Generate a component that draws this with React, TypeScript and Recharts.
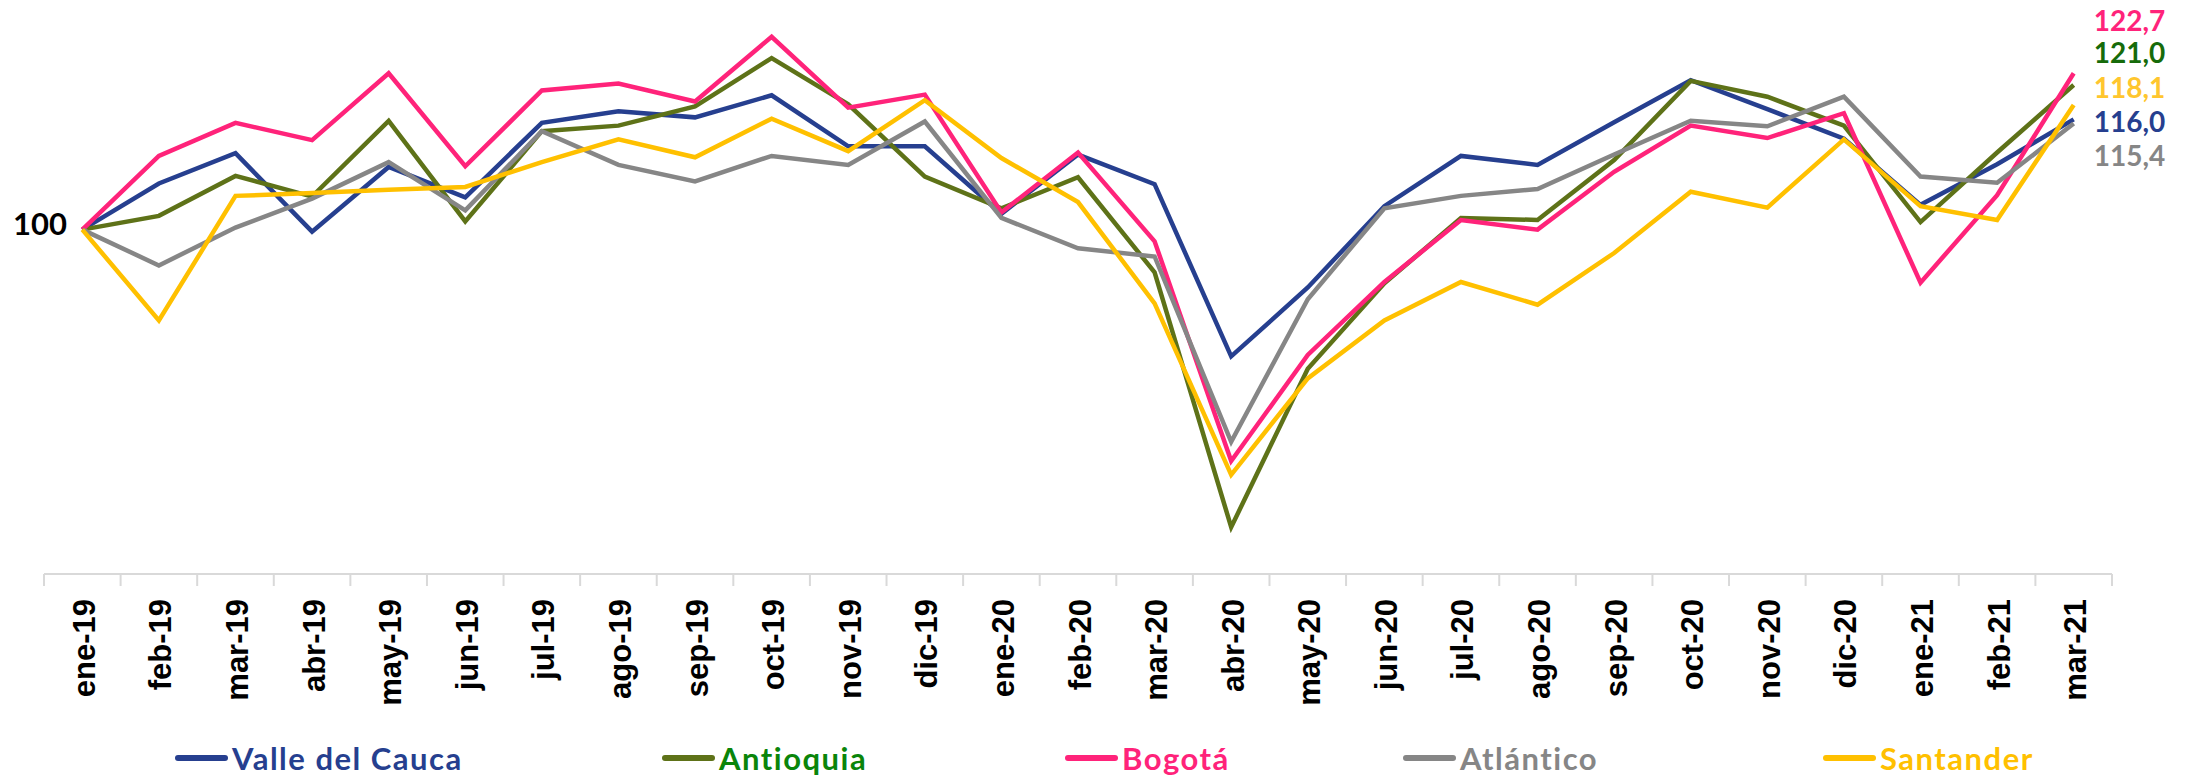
import React from 'react'
import { LineChart, Line, XAxis, YAxis } from 'recharts'

const months = [
  'ene-19', 'feb-19', 'mar-19', 'abr-19', 'may-19', 'jun-19', 'jul-19', 'ago-19', 'sep-19',
  'oct-19', 'nov-19', 'dic-19', 'ene-20', 'feb-20', 'mar-20', 'abr-20', 'may-20', 'jun-20',
  'jul-20', 'ago-20', 'sep-20', 'oct-20', 'nov-20', 'dic-20', 'ene-21', 'feb-21', 'mar-21',
]

const valle = [
  100, 106.7, 111.1, 99.7, 109.1, 104.7, 115.5, 117.2, 116.3, 119.5, 112.1, 112.1, 102.3, 110.9,
  106.6, 81.6, 91.6, 103.4, 110.7, 109.4, 115.6, 121.7, 117.5, 113.2, 103.6, 109.5, 116.0,
]
const antioquia = [
  100, 102.0, 107.8, 104.8, 115.8, 101.2, 114.3, 115.1, 117.9, 124.9, 118.2, 107.7, 103.1, 107.6,
  93.8, 56.8, 79.8, 92.2, 101.7, 101.4, 110.1, 121.6, 119.3, 115.1, 101.1, 111.2, 121.0,
]
const bogota = [
  100, 110.7, 115.5, 113.0, 122.7, 109.2, 120.2, 121.2, 118.6, 128.0, 117.7, 119.6, 102.5, 111.2,
  98.3, 66.4, 81.8, 92.4, 101.4, 100.0, 108.4, 115.1, 113.3, 116.9, 92.3, 105.0, 122.7,
]
const atlantico = [
  100, 94.8, 100.3, 104.5, 109.8, 102.8, 114.3, 109.4, 107.0, 110.7, 109.4, 115.7, 101.7, 97.3,
  96.1, 69.2, 89.9, 103.1, 104.9, 105.9, 110.9, 115.8, 115.0, 119.3, 107.7, 106.8, 115.4,
]
const santander = [
  100, 86.8, 104.9, 105.3, 105.8, 106.2, 109.8, 113.1, 110.5, 116.1, 111.4, 118.8, 110.4, 104.0,
  89.3, 64.4, 78.4, 86.8, 92.4, 89.1, 96.6, 105.5, 103.2, 113.1, 103.4, 101.4, 118.1,
]

const endLabels = ['116,0', '121,0', '122,7', '115,4', '118,1']

const series = [
  { key: 'valle', name: 'Valle del Cauca', values: valle, color: '#263f8f', text: '#263f8f', label: '#263f8f', dy: 2 },
  { key: 'antioquia', name: 'Antioquia', values: antioquia, color: '#5e7218', text: '#0a850a', label: '#166b0a', dy: -33 },
  { key: 'bogota', name: 'Bogotá', values: bogota, color: '#ff237a', text: '#ff237a', label: '#ff237a', dy: -53 },
  { key: 'atlantico', name: 'Atlántico', values: atlantico, color: '#868686', text: '#868686', label: '#868686', dy: 31 },
  { key: 'santander', name: 'Santander', values: santander, color: '#ffc000', text: '#ffc000', label: '#ffc62e', dy: -18 },
]

const legendLeft = [175, 662, 1065, 1403, 1823]

const data = months.map((m, i) => {
  const row: Record<string, string | number> = { month: m }
  series.forEach((s) => { row[s.key] = s.values[i] })
  return row
})

const HALF = 38.3

const MonthTick = (props: any) => {
  const { x, y, payload, index } = props
  return (
    <g>
      <line x1={x - HALF} x2={x - HALF} y1={y} y2={y + 12} stroke="#d9d9d9" strokeWidth={2} />
      {index === months.length - 1 && (
        <line x1={x + HALF} x2={x + HALF} y1={y} y2={y + 12} stroke="#d9d9d9" strokeWidth={2} />
      )}
      <text
        x={x + 2}
        y={y + 25}
        transform={`rotate(-90, ${x + 2}, ${y + 25})`}
        textAnchor="end"
        dominantBaseline="central"
        fontFamily="'Liberation Sans', Arial, sans-serif"
        fontWeight="bold"
        fontSize={31}
        fill="#000"
      >
        {payload.value}
      </text>
    </g>
  )
}

const HundredTick = (props: any) => {
  const { y, payload } = props
  return (
    <text x={13} y={y - 7} dominantBaseline="central" fontFamily="Lato, sans-serif" fontWeight="bold" fontSize={31} fill="#000">
      {payload.value}
    </text>
  )
}

const endLabel = (s: typeof series[number], text: string) => (props: any) => {
  const { x, y, index } = props
  if (index !== months.length - 1) return <g />
  return (
    <text x={x + 20} y={y + s.dy} dominantBaseline="central" fontFamily="Lato, sans-serif" fontWeight="bold" fontSize={28} fill={s.label}>
      {text}
    </text>
  )
}

export default function App() {
  return (
    <div style={{ position: 'absolute', left: 0, top: 0, width: 2185, height: 775, background: '#fff' }}>
      <LineChart width={2185} height={775} data={data} margin={{ top: 23, right: 73, left: 0, bottom: 0 }}>
        <XAxis
          dataKey="month"
          height={201}
          padding={{ left: HALF, right: HALF }}
          interval={0}
          tickSize={0}
          tickMargin={0}
          tickLine={false}
          axisLine={{ stroke: '#d9d9d9', strokeWidth: 2 }}
          tick={<MonthTick />}
        />
        <YAxis
          width={44}
          domain={[50, 130]}
          ticks={[100]}
          axisLine={false}
          tickLine={false}
          tickSize={0}
          tick={<HundredTick />}
        />
        {series.map((s, i) => (
          <Line
            key={s.key}
            dataKey={s.key}
            name={s.name}
            stroke={s.color}
            strokeWidth={4.5}
            dot={false}
            activeDot={false}
            type="linear"
            isAnimationActive={false}
            label={endLabel(s, endLabels[i])}
          />
        ))}
      </LineChart>
      {series.map((s, i) => (
        <div
          key={s.key}
          style={{
            position: 'absolute',
            left: legendLeft[i],
            top: 739,
            height: 38,
            display: 'flex',
            alignItems: 'center',
            fontFamily: 'Lato, sans-serif',
            fontWeight: 'bold',
            fontSize: 31,
            letterSpacing: 1.5,
            color: s.text,
            whiteSpace: 'nowrap',
          }}
        >
          <span style={{ display: 'inline-block', width: 53, height: 6, borderRadius: 3, background: s.color, marginRight: 4 }} />
          {s.name}
        </div>
      ))}
    </div>
  )
}
